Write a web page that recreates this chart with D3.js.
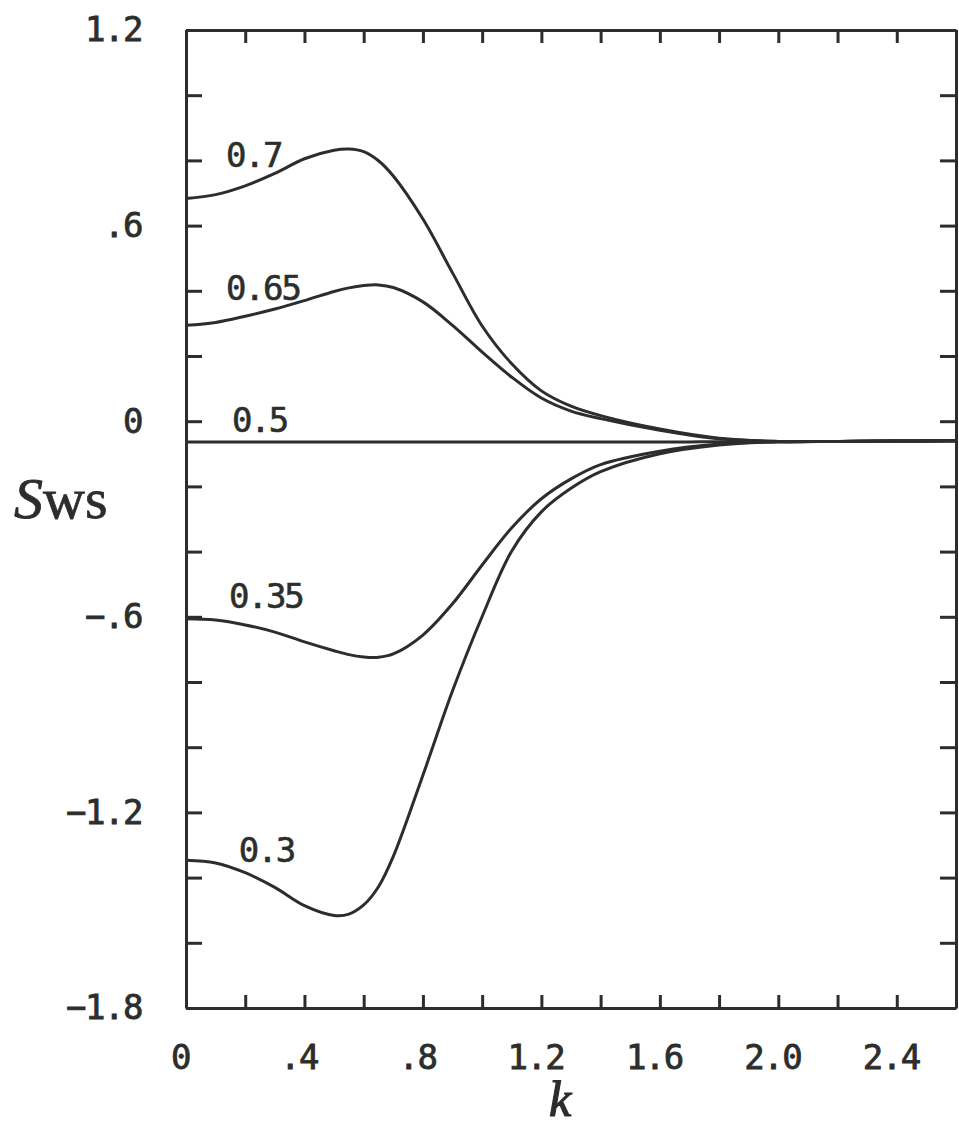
<!DOCTYPE html>
<html>
<head>
<meta charset="utf-8">
<script src="https://cdn.jsdelivr.net/npm/d3@7"></script>
<style>
  html, body { margin: 0; padding: 0; background: #fff; }
  .axis .tick text {
    font-family: "DejaVu Sans Mono", monospace;
    font-size: 34px;
    letter-spacing: -1.5px;
    fill: #2b2e2b;
    stroke: #2b2e2b;
    stroke-width: 0.8px;
  }
  .axis path, .axis line { stroke: #2b2e2b; stroke-width: 3; }
  .curve { fill: none; stroke: #2b2e2b; stroke-width: 3; }
  .curve-label {
    font-family: "DejaVu Sans Mono", monospace;
    font-size: 34px;
    letter-spacing: -2px;
    fill: #2b2e2b;
    stroke: #2b2e2b;
    stroke-width: 0.6px;
  }
</style>
</head>
<body>
<div id="chart"></div>
<script>
const kValues = [0, 0.1, 0.2, 0.3, 0.4, 0.5, 0.55, 0.6, 0.65, 0.7, 0.8, 0.9, 1.0,
                 1.1, 1.2, 1.3, 1.4, 1.6, 1.8, 2.0, 2.2, 2.4, 2.6];

const s070 = [0.683, 0.695, 0.722, 0.760, 0.805, 0.831, 0.835, 0.827, 0.799, 0.752, 0.620, 0.455, 0.292,
              0.176, 0.093, 0.046, 0.017, -0.024, -0.052, -0.062, -0.062, -0.061, -0.060];
const s065 = [0.294, 0.303, 0.322, 0.344, 0.370, 0.398, 0.409, 0.416, 0.418, 0.410, 0.366, 0.294, 0.212,
              0.135, 0.071, 0.031, 0.008, -0.028, -0.054, -0.062, -0.062, -0.061, -0.060];
const s050 = [-0.064, -0.064, -0.064, -0.064, -0.064, -0.064, -0.064, -0.064, -0.064, -0.064, -0.064, -0.064, -0.064,
              -0.064, -0.064, -0.064, -0.064, -0.064, -0.063, -0.063, -0.062, -0.061, -0.060];
const s035 = [-0.606, -0.610, -0.625, -0.647, -0.677, -0.704, -0.716, -0.723, -0.724, -0.714, -0.656, -0.560, -0.441,
              -0.327, -0.238, -0.177, -0.133, -0.092, -0.070, -0.063, -0.062, -0.061, -0.060];
const s030 = [-1.347, -1.355, -1.385, -1.430, -1.486, -1.516, -1.512, -1.484, -1.428, -1.335, -1.086, -0.827, -0.599,
              -0.398, -0.278, -0.206, -0.155, -0.100, -0.073, -0.063, -0.062, -0.061, -0.060];

const curveNames = ["0.7", "0.65", "0.5", "0.35", "0.3"];
const curveValues = [s070, s065, s050, s035, s030];
// where each curve label starts (k) and sits (S of its baseline)
const labelK = [0.135, 0.135, 0.155, 0.145, 0.178];
const labelS = [0.779, 0.371, -0.034, -0.574, -1.353];

const xTicks = [0, 0.2, 0.4, 0.6, 0.8, 1.0, 1.2, 1.4, 1.6, 1.8, 2.0, 2.2, 2.4, 2.6];
const xTickLabels = {0: "0", 0.4: ".4", 0.8: ".8", 1.2: "1.2", 1.6: "1.6", 2.0: "2.0", 2.4: "2.4"};
const yTicks = [1.2, 1.0, 0.8, 0.6, 0.4, 0.2, 0, -0.2, -0.4, -0.6, -0.8, -1.0, -1.2, -1.4, -1.6, -1.8];
const yTickLabels = {1.2: "1.2", 0.6: ".6", 0: "0", "-0.6": "\u2212.6", "-1.2": "\u22121.2", "-1.8": "\u22121.8"};

const width = 959, height = 1130;
const margin = {top: 30, right: 3, bottom: 122, left: 186};

const svg = d3.select("#chart").append("svg")
    .attr("width", width)
    .attr("height", height);

svg.append("rect").attr("width", width).attr("height", height).attr("fill", "#fff");

const x = d3.scaleLinear().domain([0, 2.6]).range([margin.left, width - margin.right]);
const y = d3.scaleLinear().domain([-1.8, 1.2]).range([height - margin.bottom, margin.top]);

// axes: ticks point inward on all four sides
svg.append("g").attr("class", "axis")
    .attr("transform", "translate(" + margin.left + ",0)")
    .call(d3.axisLeft(y).tickValues(yTicks).tickSize(-16).tickSizeOuter(0).tickPadding(44)
        .tickFormat(d => yTickLabels[d] || ""));

svg.append("g").attr("class", "axis")
    .attr("transform", "translate(" + (width - margin.right) + ",0)")
    .call(d3.axisRight(y).tickValues(yTicks).tickSize(-16).tickSizeOuter(0).tickFormat(""));

svg.append("g").attr("class", "axis")
    .attr("transform", "translate(0," + margin.top + ")")
    .call(d3.axisTop(x).tickValues(xTicks).tickSize(-13).tickSizeOuter(0).tickFormat(""));

const xAxis = svg.append("g").attr("class", "axis")
    .attr("transform", "translate(0," + (height - margin.bottom) + ")")
    .call(d3.axisBottom(x).tickValues(xTicks).tickSize(-13).tickSizeOuter(0).tickPadding(37)
        .tickFormat(d => xTickLabels[d] || ""));
xAxis.selectAll(".tick text").attr("dx", -6);

// curves
const line = d3.line()
    .curve(d3.curveCatmullRom.alpha(0.5))
    .x((d, i) => x(kValues[i]))
    .y(d => y(d));

svg.append("g").selectAll(".curve")
    .data(curveValues)
    .enter()
    .append("path")
    .attr("class", "curve")
    .attr("d", d => line(d));

svg.append("g").selectAll(".curve-label")
    .data(curveNames)
    .enter()
    .append("text")
    .attr("class", "curve-label")
    .attr("x", (d, i) => x(labelK[i]))
    .attr("y", (d, i) => y(labelS[i]))
    .text(d => d);

// axis titles
svg.append("text")
    .attr("x", 560)
    .attr("y", 1116)
    .attr("text-anchor", "middle")
    .style("font-family", "'Liberation Serif', serif")
    .style("font-style", "italic")
    .style("font-size", "50px")
    .style("fill", "#2b2e2b")
    .style("stroke", "#2b2e2b")
    .style("stroke-width", 1.2)
    .text("k");

const yTitle = svg.append("text")
    .attr("x", 14)
    .attr("y", 518)
    .style("font-family", "'Liberation Serif', serif")
    .style("font-size", "58px")
    .style("fill", "#2b2e2b")
    .style("stroke", "#2b2e2b")
    .style("stroke-width", 0.8);
yTitle.append("tspan").style("font-style", "italic").text("S");
yTitle.append("tspan").text("ws");
</script>
</body>
</html>
